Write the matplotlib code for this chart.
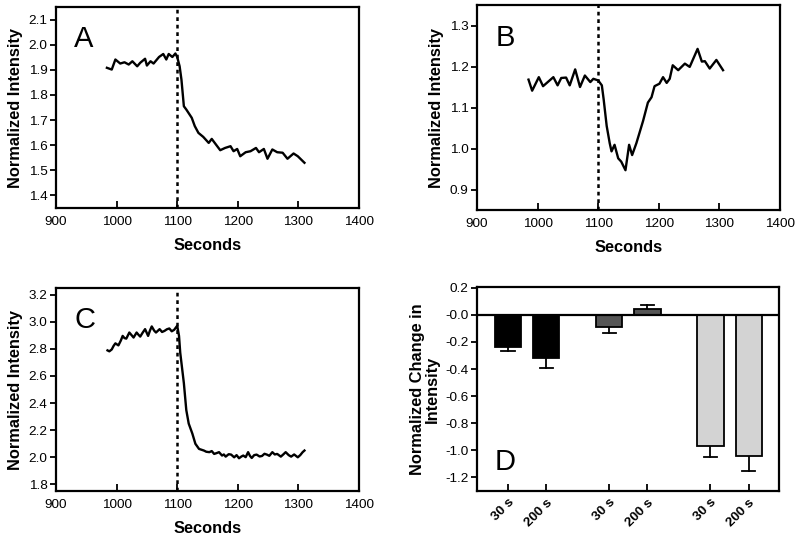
import matplotlib
matplotlib.use("Agg")
import matplotlib.pyplot as plt
import numpy as np

plt.rcParams['font.family'] = ['Liberation Sans', 'DejaVu Sans']

# Panel A
a_t = [984, 992, 998, 1006, 1013, 1020, 1026, 1034, 1039, 1047, 1050, 1056, 1061, 1070, 1077,
       1082, 1086, 1092, 1097, 1100, 1104, 1107, 1111, 1115, 1124, 1129, 1135, 1143, 1152, 1157,
       1166, 1171, 1179, 1188, 1193, 1199, 1204, 1213, 1221, 1230, 1235, 1243, 1249, 1257, 1265,
       1274, 1282, 1292, 1299, 1310]
a_v = [1.908, 1.901, 1.941, 1.925, 1.930, 1.921, 1.934, 1.914, 1.928, 1.944, 1.917, 1.934, 1.925,
       1.951, 1.963, 1.941, 1.963, 1.951, 1.965, 1.951, 1.914, 1.861, 1.755, 1.742, 1.709, 1.676,
       1.649, 1.633, 1.609, 1.625, 1.596, 1.580, 1.589, 1.596, 1.576, 1.585, 1.556, 1.572, 1.576,
       1.589, 1.572, 1.585, 1.546, 1.583, 1.572, 1.570, 1.546, 1.567, 1.556, 1.530]

# Panel B
b_t = [985, 991, 1002, 1009, 1026, 1033, 1039, 1047, 1053, 1062, 1070, 1078, 1087, 1092, 1100,
       1106, 1109, 1114, 1119, 1122, 1127, 1133, 1138, 1145, 1151, 1156, 1163, 1174, 1182, 1188,
       1193, 1201, 1207, 1213, 1218, 1223, 1232, 1243, 1251, 1264, 1271, 1276, 1284, 1295, 1306]
b_v = [1.168, 1.141, 1.174, 1.152, 1.174, 1.154, 1.172, 1.173, 1.154, 1.193, 1.150, 1.178, 1.162,
       1.170, 1.166, 1.154, 1.120, 1.055, 1.013, 0.993, 1.009, 0.976, 0.968, 0.947, 1.009, 0.984,
       1.013, 1.067, 1.112, 1.125, 1.152, 1.158, 1.174, 1.160, 1.170, 1.203, 1.191, 1.207, 1.199,
       1.243, 1.212, 1.213, 1.195, 1.216, 1.191]

# Panel C
c_t = [985, 988, 992, 995, 998, 1003, 1007, 1010, 1013, 1016, 1021, 1025, 1028, 1033, 1036, 1039,
       1043, 1047, 1052, 1055, 1058, 1062, 1065, 1071, 1075, 1079, 1083, 1087, 1091, 1095, 1100,
       1103, 1105, 1111, 1115, 1119, 1125, 1130, 1136, 1144, 1148, 1153, 1157, 1161, 1165, 1169,
       1174, 1177, 1180, 1185, 1189, 1194, 1198, 1202, 1206, 1209, 1213, 1217, 1220, 1223, 1227,
       1231, 1236, 1240, 1244, 1248, 1252, 1257, 1261, 1265, 1271, 1275, 1279, 1284, 1288, 1293,
       1299, 1303, 1307, 1310]
c_v = [2.789, 2.782, 2.796, 2.822, 2.841, 2.826, 2.862, 2.896, 2.880, 2.876, 2.921, 2.900, 2.884,
       2.921, 2.905, 2.891, 2.920, 2.946, 2.896, 2.935, 2.966, 2.935, 2.921, 2.946, 2.925, 2.933,
       2.945, 2.951, 2.930, 2.941, 2.971, 2.896, 2.772, 2.547, 2.348, 2.248, 2.174, 2.099, 2.061,
       2.049, 2.040, 2.037, 2.045, 2.024, 2.030, 2.037, 2.012, 2.020, 2.004, 2.022, 2.019, 1.999,
       2.015, 1.992, 2.005, 2.012, 2.000, 2.037, 2.010, 1.994, 2.015, 2.019, 2.005, 2.009, 2.025,
       2.019, 2.010, 2.037, 2.020, 2.024, 2.004, 2.020, 2.037, 2.015, 2.004, 2.020, 1.999, 2.015,
       2.037, 2.049]

# Panel D
d_labels = ['30 s', '200 s', '30 s', '200 s', '30 s', '200 s']
d_vals = [-0.235, -0.32, -0.09, 0.042, -0.967, -1.04]
d_err = [0.035, 0.07, 0.045, 0.028, 0.083, 0.11]
d_colors = ['#000000', '#000000', '#555555', '#555555', '#d3d3d3', '#d3d3d3']
d_pos = [0, 1, 2.64, 3.64, 5.29, 6.29]

W, H = 800, 543
fig = plt.figure(figsize=(8, 5.43), dpi=100)

def ax_at(l, t, r, b):
    return fig.add_axes([l / W, 1 - b / H, (r - l) / W, (b - t) / H])

tick_fs = 9.7
lab_fs = 11.8

def style(ax):
    for s in ax.spines.values():
        s.set_linewidth(1.6)
    ax.tick_params(axis='y', direction='out', length=4, width=1.3, labelsize=tick_fs, pad=2)
    ax.tick_params(axis='x', direction='in', length=5, width=1.3, labelsize=tick_fs, pad=6)

def line_panel(ax, t, v, ylim, yticks, yfmt, letter):
    ax.plot(t, v, color='black', lw=1.7)
    ax.axvline(1100, color='black', lw=1.8, linestyle=(0, (1.5, 1.5)))
    ax.set_xlim(900, 1400)
    ax.set_xticks([900, 1000, 1100, 1200, 1300, 1400])
    ax.set_ylim(*ylim)
    ax.set_yticks(yticks)
    ax.set_yticklabels([yfmt.format(y) for y in yticks])
    ax.set_xlabel('Seconds', fontsize=lab_fs, fontweight='bold', labelpad=7)
    ax.set_ylabel('Normalized Intensity', fontsize=lab_fs, fontweight='bold', labelpad=4)
    ax.text(0.06, 0.84, letter, transform=ax.transAxes, fontsize=21, va='center', ha='left')
    style(ax)

axA = ax_at(56, 7, 359, 208)
line_panel(axA, a_t, a_v, (1.35, 2.15), [1.4, 1.5, 1.6, 1.7, 1.8, 1.9, 2.0, 2.1], '{:.1f}', 'A')

axB = ax_at(477, 5, 780, 210)
line_panel(axB, b_t, b_v, (0.85, 1.35), [0.9, 1.0, 1.1, 1.2, 1.3], '{:.1f}', 'B')

axC = ax_at(56, 288, 359, 491)
line_panel(axC, c_t, c_v, (1.75, 3.25), [1.8, 2.0, 2.2, 2.4, 2.6, 2.8, 3.0, 3.2], '{:.1f}', 'C')

axD = ax_at(477, 287, 779, 491)
axD.bar(d_pos, d_vals, width=0.69, color=d_colors, edgecolor='black', linewidth=1.3, zorder=2)
for p, v, e in zip(d_pos, d_vals, d_err):
    sign = 1 if v >= 0 else -1
    axD.plot([p, p], [v, v + sign * e], color='black', lw=1.3, zorder=1)
    axD.plot([p - 0.17, p + 0.17], [v + sign * e] * 2, color='black', lw=1.3, zorder=1)
axD.axhline(0, color='black', lw=1.6, zorder=3)
axD.set_xlim(-0.81, 7.08)
axD.set_ylim(-1.3, 0.205)
dy = [0.2, 0.0, -0.2, -0.4, -0.6, -0.8, -1.0, -1.2]
axD.set_yticks(dy)
axD.set_yticklabels(['0.2', '-0.0', '-0.2', '-0.4', '-0.6', '-0.8', '-1.0', '-1.2'])
axD.set_xticks(d_pos)
axD.set_xticklabels(d_labels, rotation=45, ha='right', rotation_mode='anchor',
                    fontweight='bold', fontsize=10.3)
axD.set_ylabel('Normalized Change in\nIntensity', fontsize=lab_fs, fontweight='bold',
               labelpad=4, linespacing=1.0)
axD.text(0.06, 0.14, 'D', transform=axD.transAxes, fontsize=21, va='center', ha='left')
style(axD)
axD.tick_params(axis='x', pad=4)

fig.savefig('out.png', dpi=100)
